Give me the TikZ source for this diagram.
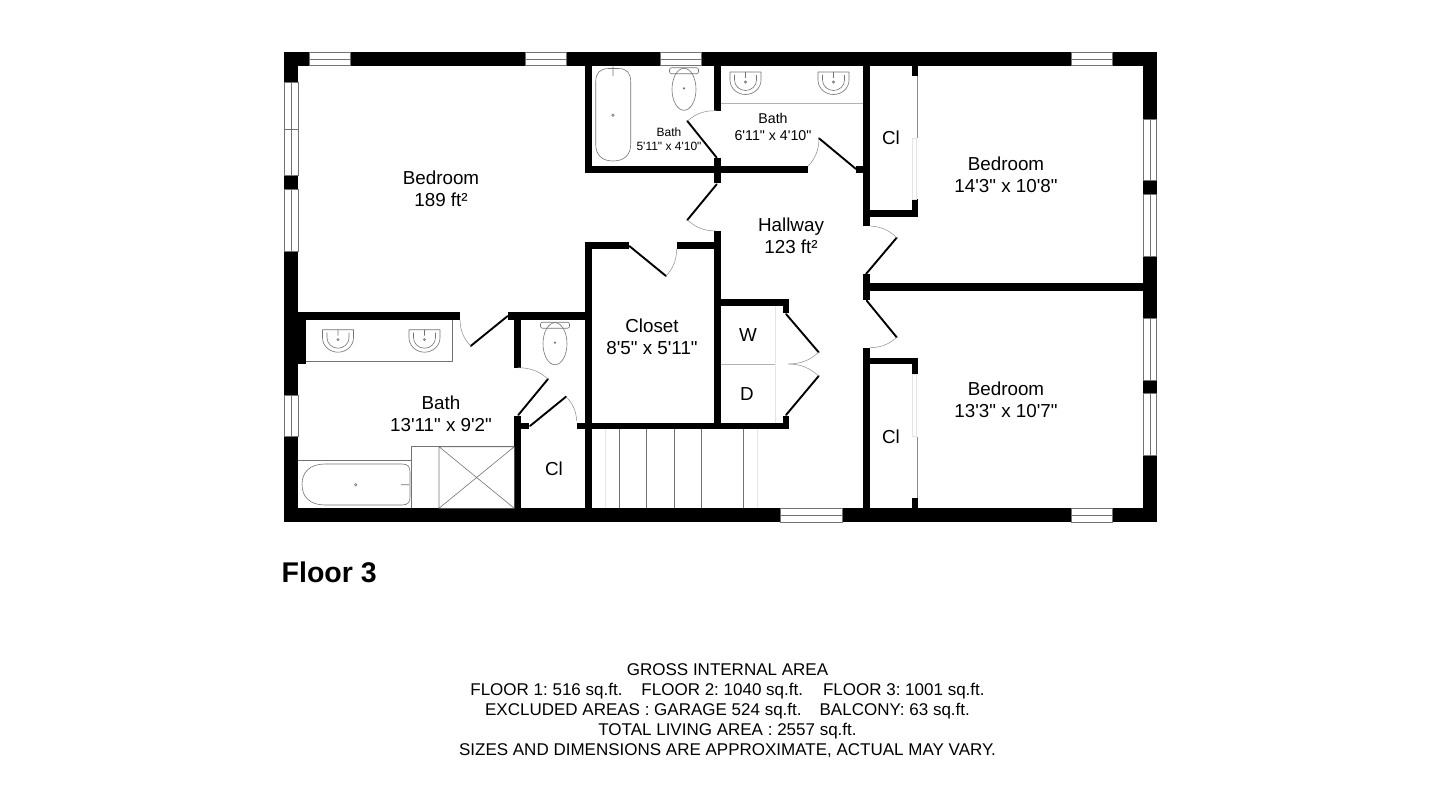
\documentclass[tikz,border=0pt]{standalone}
\usepackage{fontspec}
\newfontfamily\planfont{Liberation Sans}
\usetikzlibrary{calc}
\frenchspacing
\tikzset{
  fixture/.style={draw=black!55,line width=.6pt},
  soft/.style={draw=black!30,line width=.5pt},
  faint/.style={draw=black!10,line width=.5pt},
  leaf/.style={line width=1.9pt,line cap=round},
  swing/.style={draw=black!45,line width=.5pt},
  glass/.style={draw=black!55,line width=.6pt,fill=white},
  roomlabel/.style={font=\planfont\fontsize{18.8}{22}\selectfont,align=center,inner sep=0pt},
  midlabel/.style={font=\planfont\fontsize{14.2}{17}\selectfont,align=center,inner sep=0pt},
  smalllabel/.style={font=\planfont\fontsize{12}{14}\selectfont,align=center,inner sep=0pt},
  notelabel/.style={font=\planfont\frenchspacing\fontsize{17}{20}\selectfont,align=center,inner sep=0pt},
  basin/.pic={
    \draw[fixture] (-15.5,0) -- (15.5,0) (-15.5,0) -- (-15.5,8) arc[start angle=180,end angle=0,x radius=15.5,y radius=14.5] -- (15.5,0);
    \draw[fixture] (-11,3) -- (-11,8) arc[start angle=180,end angle=0,x radius=11,y radius=10.5] -- (11,3);
    \draw[fixture] (0,0) -- (0,6) (0,10) circle(1.1);
  },
  commode/.pic={
    \draw[fixture,rounded corners=2pt] (-14.5,-21.5) rectangle (14.5,-15.5);
    \draw[fixture] (0,0) ellipse(12 and 21);
    \draw[fixture] (0,-1) circle(.8);
  }
}
\begin{document}
\begin{tikzpicture}[x=1pt,y=-1pt]
\useasboundingbox (0,0) rectangle (1440,810);
\foreach \xa/\ya/\xb/\yb in {
  284.3/52/309/65.7, 350/52/525/65.7, 566/52/660.7/65.7, 701.7/52/1071.7/65.7, 1112.3/52/1156.7/65.7,
  284.3/508.3/780.7/522.3, 842.7/508.3/1071.7/522.3, 1112.3/508.3/1156.7/522.3,
  284.3/52/298.3/82.7, 284.3/175.7/298.3/189.3, 284.3/251/298.3/395, 284.3/320/305.7/364.3, 284.3/436/298.3/522,
  1143.3/52/1156.7/119, 1143.3/180.7/1156.7/194.3, 1143.3/256.7/1156.7/318.3, 1143.3/380/1156.7/393.3, 1143.3/455.3/1156.7/522,
  298/312.3/460/320, 507.7/312.3/585/320, 514.3/320/521/367.7, 514.3/415.7/521/508,
  521/422.7/529.3/429.3, 577.3/422.7/591/429.3,
  585/65/591.7/172.7, 585/242.3/591.7/508, 585/165.7/808.3/172.7, 856/165.7/863.3/172.7,
  714.3/65/721/110.7, 714.3/158.3/721/182.7,
  585/242.3/629.3/249.3, 676.7/242.3/714.3/249.3, 714.3/231/721/429,
  721/299/789.3/306, 782.7/299/789.3/312.7, 585/422.7/789.3/429.3, 782.7/416/789.3/429.3,
  863.3/65/870/226, 863.3/274.3/870/300, 863.3/347.7/870/508,
  870/210/918.3/217, 911.7/199.3/918.3/217, 911.7/65/918.3/76,
  870/283.3/1143.3/290.7,
  870/357.7/918.3/364.3, 911.7/357.7/918.3/374.3, 911.7/498.3/918.3/508}
  \fill (\xa,\ya) rectangle (\xb,\yb);
\foreach \xa/\xb in {309/350, 525/566, 660.7/701.7, 1071.7/1112.3} {
  \draw[glass] (\xa,52) rectangle (\xb,65.7);
  \draw[fixture] (\xa,59) -- (\xb,59);
}
\foreach \xa/\xb in {780.7/842.7, 1071.7/1112.3} {
  \draw[glass] (\xa,508.3) rectangle (\xb,522.3);
  \draw[fixture] (\xa,515.5) -- (\xb,515.5);
}
\foreach \ya/\yb in {82.7/175.7, 189.3/251, 395/436} {
  \draw[glass] (284.3,\ya) rectangle (298.3,\yb);
  \draw[fixture] (291.5,\ya) -- (291.5,\yb);
}
\draw[fixture] (284.3,129) -- (298.3,129);
\foreach \ya/\yb in {119/180.7, 194.3/256.7, 318.3/380, 393.3/455.3} {
  \draw[glass] (1143.3,\ya) rectangle (1156.7,\yb);
  \draw[fixture] (1150,\ya) -- (1150,\yb);
}
\foreach \xa/\ya/\xb/\yb/\xc/\yc/\bend in {
  716.7/157.7/687.3/121/716/110.7/20,
  856/169/819/138.3/808.3/166/20,
  716.7/184.3/687.3/220/716/231/-20,
  629.3/246/666/276/676.7/249/-20,
  507.7/316/470.7/346/460/320/20,
  518.3/415/548/379/518/367.7/-20,
  530/426/566/396.7/576.7/421/20,
  866/274/896.7/237.7/870/226/-20,
  866.7/300.7/896.7/337.3/870/347.7/20,
  786/314/818.7/352.3/788.3/364/20,
  786/415/818.7/376/788.3/364/-20} {
  \draw[leaf] (\xa,\ya) -- (\xb,\yb);
  \draw[swing] (\xb,\yb) to[bend left=\bend] (\xc,\yc);
}
\foreach \x in {619.3, 646.7, 674.3, 701.7, 743} \draw[fixture] (\x,429.3) -- (\x,508.3);
\foreach \x in {605.7, 757.3} \draw[faint] (\x,429.3) -- (\x,508.3);
\draw[soft] (721,364) -- (775.7,364);
\draw[faint] (775.7,306) -- (775.7,423);
\foreach \ya/\yb in {76/138, 436.7/498.3} \draw[draw=black!45,line width=1pt] (917,\ya) -- (917,\yb);
\foreach \ya/\yb in {138/199.3, 374.3/436.7} \draw[faint] (912.3,\ya) rectangle (916,\yb);
\draw[soft] (721,103.7) -- (863.3,103.7);
\draw[fixture] (305.7,361) -- (452.7,361) -- (452.7,320);
\draw[fixture] (298.3,460) -- (411.7,460);
\draw[fixture] (411.7,508.3) -- (411.7,446.7) -- (514.3,446.7);
\draw[fixture] (439,446.7) rectangle (514.3,508.3) (439,446.7) -- (514.3,508.3) (439,508.3) -- (514.3,446.7);
\draw[fixture] (325,464) -- (402,464) .. controls (408,464) and (410,467) .. (410,472) -- (410,497) .. controls (410,502) and (408,505) .. (402,505) -- (325,505) .. controls (310,505) and (302,497) .. (302,484.5) .. controls (302,472) and (310,464) .. (325,464);
\draw[fixture] (355.7,484.7) circle(1.2) (401,484.7) -- (409,484.7);
\draw[fixture] (609,68.5) -- (618,68.5) .. controls (627,68.5) and (630.7,73) .. (630.7,82) -- (630.7,144) .. controls (630.7,155) and (624,161) .. (613,161) .. controls (602,161) and (595.7,155) .. (595.7,144) -- (595.7,82) .. controls (595.7,73) and (600,68.5) .. (609,68.5);
\draw[fixture] (613,115.3) circle(1.2) (613,66.5) -- (613,76);
\foreach \x/\y in {338/329.7, 424.5/329.7, 745.5/72, 833.5/72} \pic at (\x,\y) {basin};
\pic at (684,89.3) {commode};
\pic at (555,343.7) {commode};
\node[roomlabel] (bedroomA) at (441,189) {Bedroom\\189 ft²};
\node[roomlabel] (hallway) at (791,236) {Hallway\\123 ft²};
\node[roomlabel] (bedroomB) at (1006,175) {Bedroom\\14'3" x 10'8"};
\node[roomlabel] (bedroomC) at (1006,400) {Bedroom\\13'3" x 10'7"};
\node[roomlabel] (closet) at (652,336.5) {Closet\\8'5" x 5'11"};
\node[roomlabel] (bathA) at (441,414) {Bath\\13'11" x 9'2"};
\node[midlabel] (bathB) at (773,126.5) {Bath\\6'11" x 4'10"};
\node[smalllabel] (bathC) at (669,139) {Bath\\5'11" x 4'10"};
\node[roomlabel] (clA) at (891,138) {Cl};
\node[roomlabel] (clB) at (891,437) {Cl};
\node[roomlabel] (clC) at (554,469) {Cl};
\node[roomlabel] (washer) at (748,335) {W};
\node[roomlabel] (dryer) at (747,394) {D};
\node[font=\planfont\bfseries\fontsize{28.5}{32}\selectfont,anchor=west,inner sep=0pt] (floor) at (281.5,572) {Floor 3};
\node[notelabel] (areas) at (727.5,711) {GROSS INTERNAL AREA\\
  FLOOR 1: 516 sq.ft.\hspace{19pt}FLOOR 2: 1040 sq.ft.\hspace{20pt}FLOOR 3: 1001 sq.ft.\\
  EXCLUDED AREAS : GARAGE 524 sq.ft.\hspace{18pt}BALCONY: 63 sq.ft.\\
  TOTAL LIVING AREA : 2557 sq.ft.\\
  SIZES AND DIMENSIONS ARE APPROXIMATE, ACTUAL MAY VARY.};
\end{tikzpicture}
\end{document}
